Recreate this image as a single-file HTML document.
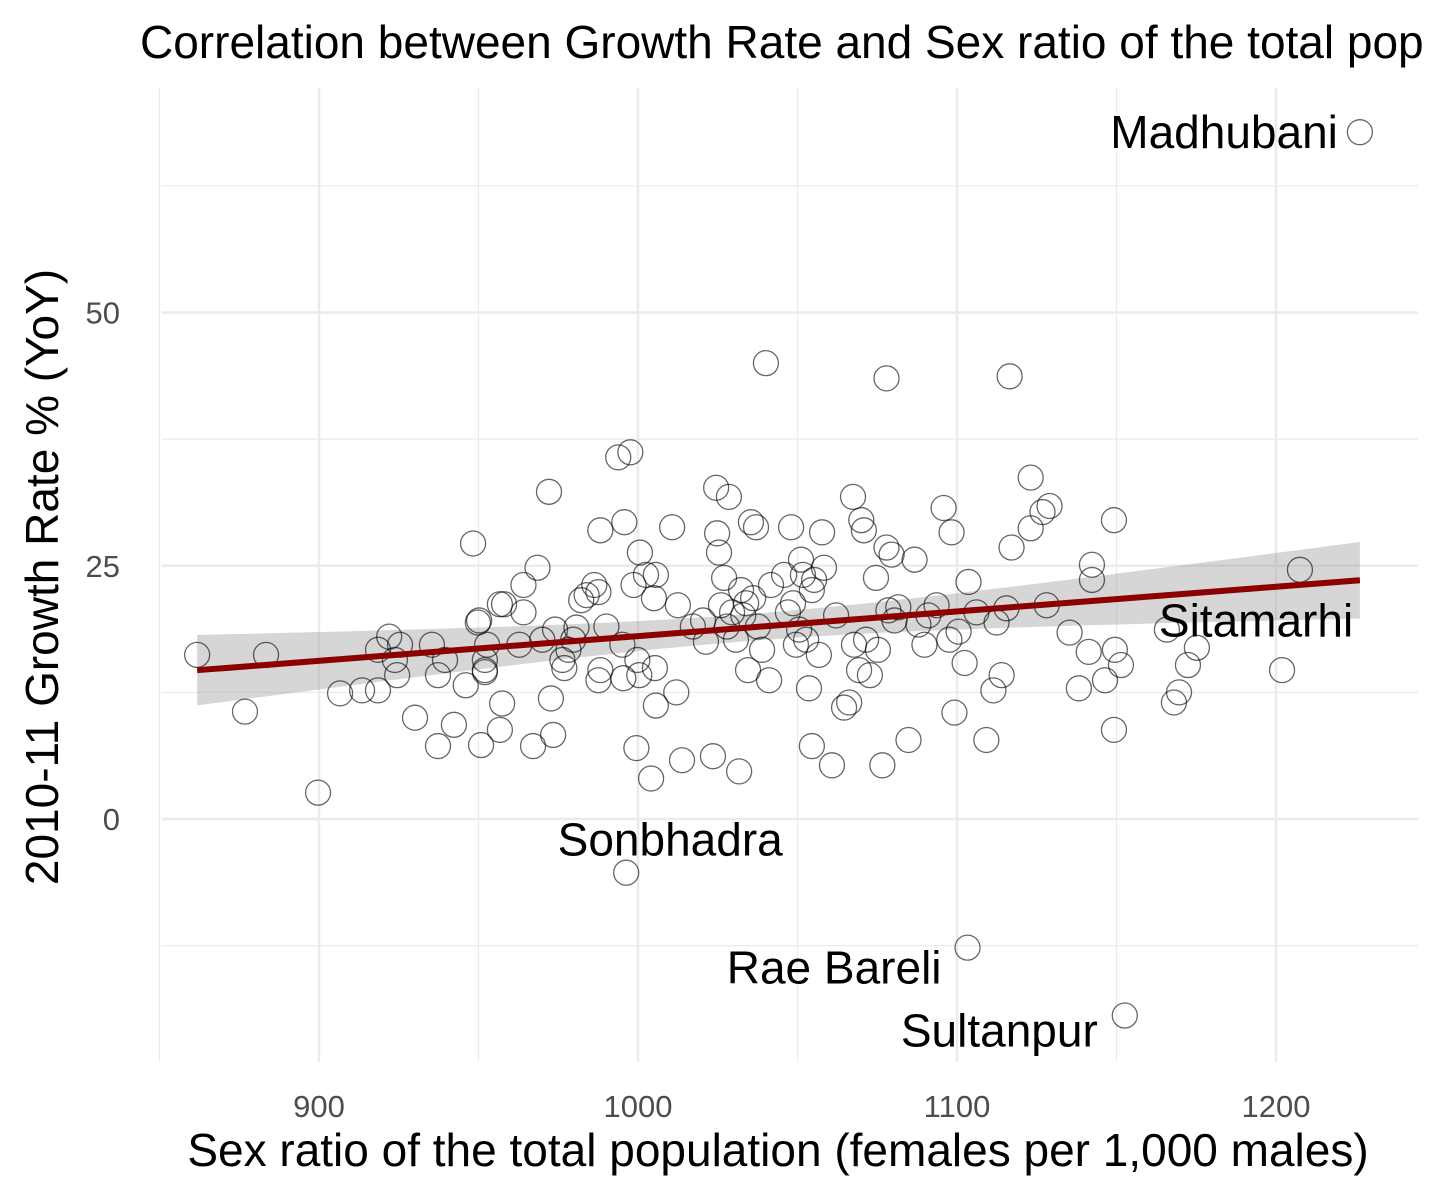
<!DOCTYPE html>
<html><head><meta charset="utf-8"><style>
html,body{margin:0;padding:0;background:#fff;overflow:hidden}
svg{display:block;font-family:"Liberation Sans",Arial,sans-serif}
</style></head><body>
<svg id="chart" width="1440" height="1195" viewBox="0 0 1440 1195">
<text x="140" y="58" font-size="46" fill="#000">Correlation between Growth Rate and Sex ratio of the total pop</text>
<g id="grid"></g>
<g id="band"></g>
<g id="pts"></g>
<g id="fit"></g>
<g id="labels"></g>
<g id="ticks"></g>
<text x="778" y="1166" font-size="46" text-anchor="middle" fill="#000">Sex ratio of the total population (females per 1,000 males)</text>
<text transform="translate(58,577) rotate(-90)" font-size="46" text-anchor="middle" fill="#000">2010-11 Growth Rate % (YoY)</text>
</svg>
<script>
const xTicks=[900,1000,1100,1200];
const yTicks=[0,25,50];
const xMinor=[850,950,1050,1150];
const yMinor=[-12.5,12.5,37.5,62.5];
const sexRatio=[861.8,876.8,883.4,899.7,906.6,913.5,918.5,918.5,922,923.8,924.5,925.4,930.1,935.4,937.3,937.3,939.5,942.3,946,948.3,949.8,950.8,952,952,952.7,956.7,957.4,956.7,962.8,964.1,964.1,967.1,968.5,970,972.1,972.7,973.4,974,976.3,976.9,978.2,979.7,980.7,982.2,983.9,986.3,987.6,987.6,988.2,988.2,990.1,993.8,995.7,995.1,995.4,997.6,998.6,999.5,999.8,1000.4,1000.6,1002.5,1004.1,1005,1005.3,1005.6,1005.6,1010.7,1012,1012.5,1013.8,1017.2,1020.4,1021.3,1023.5,1024.5,1024.8,1025.4,1026,1027,1027.9,1028.5,1029.5,1030.7,1031.7,1032.3,1033,1033.9,1034.5,1035.4,1036.1,1037,1037.6,1038.9,1040.1,1041.1,1041.7,1045.8,1047,1048,1048.6,1049.5,1050.5,1051.1,1051.7,1052.7,1053.6,1054.5,1054.5,1055.2,1056.7,1057.7,1058.3,1060.8,1062.1,1064.6,1066.2,1067.4,1067.7,1069.3,1070,1070.8,1071.5,1072.7,1074.6,1075.2,1076.6,1077.9,1077.9,1078.5,1079.5,1080.4,1081.6,1084.8,1086.7,1087.9,1089.8,1091,1093.6,1095.8,1097.6,1098.3,1099.2,1100.5,1102.4,1103.3,1103.6,1106.1,1109.2,1111.4,1112.4,1114,1115.5,1116.5,1117.1,1123.1,1123.1,1126.8,1129,1128.1,1135.3,1138.2,1141.3,1142.3,1142.3,1146.4,1149.2,1149.2,1149.5,1151.4,1152.6,1165.8,1168,1169.6,1172.4,1175.2,1201.9,1207.5,1226.3,996.3,950.2,958,952];
const growth=[16.2,10.6,16.2,2.6,12.4,12.7,12.7,16.7,18,15.7,14.2,17.2,10,17.2,14.2,7.2,15.7,9.3,13.2,27.2,19.4,7.3,14.7,15.7,17.2,21.2,11.4,8.8,17.2,23.1,20.4,7.2,24.8,17.7,32.3,11.9,8.3,18.7,15.7,14.9,16.7,17.7,18.9,21.6,22.1,23.1,22.4,13.7,28.5,14.7,19,35.7,29.3,17.2,13.9,36.2,23.1,7,15.7,14.2,26.3,24.1,4,21.8,14.9,11.2,24.1,28.8,12.5,21.1,5.8,19,19.6,17.5,6.2,32.7,28.2,26.3,21.1,23.8,19,31.8,20.4,17.7,4.7,22.6,20.1,21.3,14.7,29.3,21.8,28.8,19,16.7,45,13.7,23.1,24.1,20.4,28.8,21.3,17.2,18.7,25.6,24.1,17.7,12.9,22.6,7.2,23.6,16.2,28.3,24.8,5.3,20.1,11,11.5,31.8,17.2,14.7,29.5,28.5,17.7,14.2,23.8,16.7,5.3,43.5,26.8,20.6,26.1,19.6,20.9,7.8,25.6,19.2,17.2,20.1,21.1,30.7,17.7,28.3,10.5,18.5,15.4,-12.7,23.4,20.4,7.8,12.7,19.4,14.2,20.8,43.7,26.8,33.7,28.7,30.3,30.9,21.1,18.4,12.9,16.5,25.1,23.6,13.7,29.5,8.8,16.7,15.2,-19.4,18.7,11.5,12.5,15.2,16.9,14.7,24.6,67.8,-5.3,19.6,21.2,14.5];
const labelNames=["Madhubani","Sitamarhi","Sonbhadra","Rae Bareli","Sultanpur"];
const labelX=[1226.3,1165.8,996.3,1103.3,1152.6];
const labelY=[67.8,18.7,-5.3,-12.7,-19.4];

const NS="http://www.w3.org/2000/svg";
const sx=v=>319+(v-900)*3.19;
const sy=v=>819-v*10.13;
const PL=162,PR=1418,PT=88,PB=1062;
function mk(tag,attrs,parent){const e=document.createElementNS(NS,tag);for(const k in attrs)e.setAttribute(k,attrs[k]);parent.appendChild(e);return e;}
const grid=document.getElementById('grid');
xMinor.forEach(v=>{const l=mk('line',{x1:sx(v),x2:sx(v),y1:PT,y2:PB,stroke:'#ebebeb','stroke-width':1.2},grid);

});
yMinor.forEach(v=>{const l=mk('line',{x1:PL,x2:PR,y1:sy(v),y2:sy(v),stroke:'#ebebeb','stroke-width':1.2},grid);

});
xTicks.forEach(v=>{const l=mk('line',{x1:sx(v),x2:sx(v),y1:PT,y2:PB,stroke:'#ebebeb','stroke-width':2.5},grid);

});
yTicks.forEach(v=>{const l=mk('line',{x1:PL,x2:PR,y1:sy(v),y2:sy(v),stroke:'#ebebeb','stroke-width':2.5},grid);

});
const ticks=document.getElementById('ticks');
xTicks.forEach(v=>{const t=mk('text',{x:sx(v),y:1117,'font-size':31,fill:'#4d4d4d','text-anchor':'middle'},ticks);t.textContent=v;

});
yTicks.forEach(v=>{const t=mk('text',{x:120,y:sy(v)+11,'font-size':31,fill:'#4d4d4d','text-anchor':'end'},ticks);t.textContent=v;

});
const n=sexRatio.length;
const mx=sexRatio.reduce((a,b)=>a+b,0)/n, my=growth.reduce((a,b)=>a+b,0)/n;
let sxx=0,sxy=0;for(let i=0;i<n;i++){sxx+=(sexRatio[i]-mx)**2;sxy+=(sexRatio[i]-mx)*(growth[i]-my);}
const b=sxy/sxx,a=my-b*mx;
let sse=0;for(let i=0;i<n;i++)sse+=(growth[i]-a-b*sexRatio[i])**2;
const s=Math.sqrt(sse/(n-2));
const xmin=Math.min(...sexRatio),xmax=Math.max(...sexRatio);
const up=[],lo=[],mid=[];
for(let k=0;k<=80;k++){const x=xmin+(xmax-xmin)*k/80;const yh=a+b*x;const hw=1.97*s*Math.sqrt(1/n+(x-mx)**2/sxx);
up.push(sx(x)+','+sy(yh+hw));lo.unshift(sx(x)+','+sy(yh-hw));mid.push(sx(x)+','+sy(yh));}
const band=mk('polygon',{points:up.concat(lo).join(' '),fill:'#999','fill-opacity':0.4},document.getElementById('band'));


const pts=document.getElementById('pts');
for(let i=0;i<n;i++){const c=mk('circle',{cx:sx(sexRatio[i]),cy:sy(growth[i]),r:12.5,fill:'none',stroke:'#000','stroke-opacity':0.6,'stroke-width':1.3},pts);

}
const fl=mk('polyline',{points:mid.join(' '),fill:'none',stroke:'#8b0000','stroke-width':6},document.getElementById('fit'));


const labs=document.getElementById('labels');
const off=[[-22,16,'end'],[-8,7,'start'],[44,-17,'middle'],[-26,36,'end'],[-27,31,'end']];
labelNames.forEach((nm,i)=>{const o=off[i];const px=sx(labelX[i]),py=sy(labelY[i]);
const t=mk('text',{x:px+o[0],y:py+o[1],'font-size':46,fill:'#000','text-anchor':o[2]},labs);t.textContent=nm;

});
</script>
</body></html>
